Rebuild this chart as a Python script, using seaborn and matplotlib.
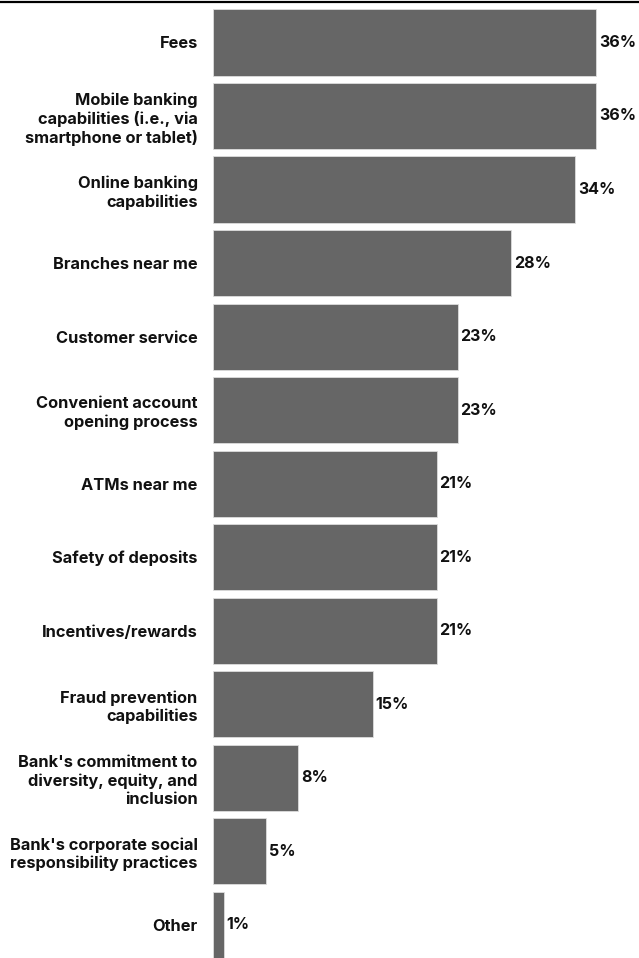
import matplotlib
matplotlib.use("Agg")
import matplotlib.pyplot as plt
import seaborn as sns
import pandas as pd
from matplotlib.lines import Line2D

categories = [
    "Fees",
    "Mobile banking\ncapabilities (i.e., via\nsmartphone or tablet)",
    "Online banking\ncapabilities",
    "Branches near me",
    "Customer service",
    "Convenient account\nopening process",
    "ATMs near me",
    "Safety of deposits",
    "Incentives/rewards",
    "Fraud prevention\ncapabilities",
    "Bank's commitment to\ndiversity, equity, and\ninclusion",
    "Bank's corporate social\nresponsibility practices",
    "Other",
]
values = [36, 36, 34, 28, 23, 23, 21, 21, 21, 15, 8, 5, 1]

df = pd.DataFrame({"category": categories, "value": values})

sns.set_theme(style="white")
plt.rcParams["font.family"] = ["Inter", "DejaVu Sans"]

fig = plt.figure(figsize=(6.39, 9.58), dpi=100)
W, H = 639, 958
ax = fig.add_axes([213 / W, 0, (W - 213) / W, 956 / H])

sns.barplot(data=df, x="value", y="category", orient="h", color="#666666",
            width=0.9, saturation=1, edgecolor="#dddddd", linewidth=0.6, ax=ax)

ax.set_xlim(0, 40)
ax.set_ylim(12.45, -0.55)
ax.set_xlabel("")
ax.set_ylabel("")
ax.set_xticks([])
for s in ax.spines.values():
    s.set_visible(False)
ax.tick_params(axis="y", length=0, pad=11)
for lbl in ax.get_yticklabels():
    lbl.set_fontweight("bold")
    lbl.set_fontsize(11.8)
    lbl.set_color("#111111")
    lbl.set_horizontalalignment("right")
    lbl.set_multialignment("right")
    lbl.set_linespacing(1.25)

for i, v in enumerate(values):
    ax.text(v + 0.25, i, f"{v}%", va="center", ha="left", fontsize=11.5,
            fontweight="bold", color="#111111")

fig.add_artist(Line2D([0, 1], [1 - 1.5 / H, 1 - 1.5 / H], color="black",
                      linewidth=1.6, transform=fig.transFigure))

fig.savefig("out.png", dpi=100)
